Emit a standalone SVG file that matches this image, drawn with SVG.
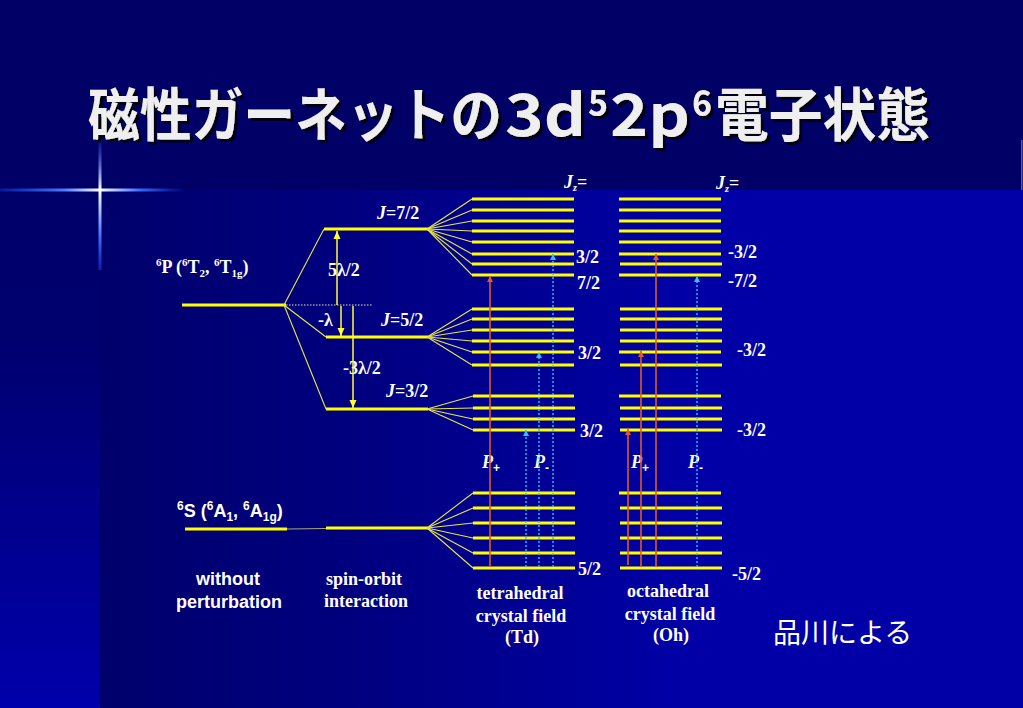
<svg xmlns="http://www.w3.org/2000/svg" width="1023" height="708" viewBox="0 0 1023 708">
<defs>
<style>
.lvl{stroke:#ffff00;stroke-width:3;fill:none}
.fan{stroke:#e6e64a;stroke-width:1.1;fill:none}
.ya{stroke:#ffff33;stroke-width:1.5;fill:none}
.or{stroke:#e0582a;stroke-width:1.6;fill:none}
.cy{stroke:#2cc4f4;stroke-width:1.4;fill:none;stroke-dasharray:2 2}
.tm{font-family:"Liberation Serif","Times New Roman",serif;font-weight:bold;fill:#ffffff;font-size:18px}
.ar{font-family:"Liberation Sans",Arial,sans-serif;font-weight:bold;fill:#ffffff;font-size:18px}
.it{font-style:italic}
.ttl{font-family:"Noto Sans CJK JP","Noto Sans CJK SC",sans-serif;font-weight:bold;fill:#efefef}
</style>
<filter id="shadow" x="-5%" y="-20%" width="110%" height="150%">
<feDropShadow dx="3" dy="3" stdDeviation="0.6" flood-color="#000018" flood-opacity="1"/>
</filter>
<linearGradient id="gMain" x1="100" y1="0" x2="680" y2="0" gradientUnits="userSpaceOnUse">
<stop offset="0" stop-color="#00006c"/>
<stop offset="0.45" stop-color="#000080"/>
<stop offset="1" stop-color="#0000a6"/>
</linearGradient>
<linearGradient id="gLeft" x1="0" y1="190" x2="0" y2="708" gradientUnits="userSpaceOnUse">
<stop offset="0" stop-color="#00006a"/>
<stop offset="0.3" stop-color="#000070"/>
<stop offset="1" stop-color="#0000ac"/>
</linearGradient>
<linearGradient id="gH" x1="0" y1="0" x2="185" y2="0" gradientUnits="userSpaceOnUse">
<stop offset="0" stop-color="#2050ff" stop-opacity="0.3"/>
<stop offset="0.35" stop-color="#4a7cff"/>
<stop offset="0.54" stop-color="#ffffff"/>
<stop offset="0.75" stop-color="#3d6dff"/>
<stop offset="1" stop-color="#2050ff" stop-opacity="0"/>
</linearGradient>
<linearGradient id="gV" x1="0" y1="140" x2="0" y2="270" gradientUnits="userSpaceOnUse">
<stop offset="0" stop-color="#2050ff" stop-opacity="0.2"/>
<stop offset="0.38" stop-color="#ffffff"/>
<stop offset="0.7" stop-color="#5080ff"/>
<stop offset="1" stop-color="#2050ff" stop-opacity="0.4"/>
</linearGradient>
<marker id="mO" markerWidth="6" markerHeight="6" refX="6" refY="3" orient="auto" markerUnits="userSpaceOnUse"><path d="M0,0 L6,3 L0,6 z" fill="#e0582a"/></marker>
<marker id="mC" markerWidth="6" markerHeight="6" refX="6" refY="3" orient="auto" markerUnits="userSpaceOnUse"><path d="M0,0 L6,3 L0,6 z" fill="#2cc4f4"/></marker>
<marker id="mY" markerWidth="8" markerHeight="8" refX="8" refY="4" orient="auto" markerUnits="userSpaceOnUse"><path d="M0,0.5 L8,4 L0,7.5 z" fill="#ffff33"/></marker>
</defs>

<!-- background -->
<rect x="0" y="0" width="1023" height="708" fill="#000066"/>
<rect x="100" y="190" width="923" height="518" fill="url(#gMain)"/>
<rect x="0" y="190" width="100" height="518" fill="url(#gLeft)"/>
<rect x="1021" y="140" width="1.5" height="50" fill="#8080c8" opacity="0.7"/>
<rect x="0" y="188.5" width="185" height="3" fill="url(#gH)"/>
<rect x="98.5" y="140" width="3" height="130" fill="url(#gV)"/>

<!-- title -->
<g id="title" filter="url(#shadow)">
<text class="ttl" transform="translate(88,136) scale(1,1.12)" x="0" y="0" font-size="51.5" textLength="414" lengthAdjust="spacingAndGlyphs">磁性ガーネットの</text>
<text class="ttl" x="505" y="136" font-size="58" textLength="81" lengthAdjust="spacingAndGlyphs">3d</text>
<text class="ttl" x="588" y="116" font-size="36" textLength="20" lengthAdjust="spacingAndGlyphs">5</text>
<text class="ttl" x="610" y="136" font-size="58" textLength="80" lengthAdjust="spacingAndGlyphs">2p</text>
<text class="ttl" x="692" y="116" font-size="36" textLength="20" lengthAdjust="spacingAndGlyphs">6</text>
<text class="ttl" transform="translate(715,136) scale(1,1.08)" x="0" y="0" font-size="53.5" textLength="215" lengthAdjust="spacingAndGlyphs">電子状態</text>
</g>

<!-- nodes: energy levels -->
<g id="level-6P">
<line class="lvl" x1="182" y1="305" x2="286" y2="305"/>
<text class="tm" x="156" y="273"><tspan font-size="11" dy="-7">6</tspan><tspan dy="7">P (</tspan><tspan font-size="11" dy="-7">6</tspan><tspan dy="7">T</tspan><tspan font-size="11" dy="4">2</tspan><tspan dy="-4">, </tspan><tspan font-size="11" dy="-7">6</tspan><tspan dy="7">T</tspan><tspan font-size="11" dy="4">1g</tspan><tspan dy="-4">)</tspan></text>
</g>
<g id="level-6S">
<line class="lvl" x1="185" y1="529" x2="287" y2="529"/>
<text class="ar" x="177" y="517"><tspan font-size="12" dy="-7">6</tspan><tspan dy="7">S (</tspan><tspan font-size="12" dy="-7">6</tspan><tspan dy="7">A</tspan><tspan font-size="12" dy="4">1</tspan><tspan dy="-4">, </tspan><tspan font-size="12" dy="-7">6</tspan><tspan dy="7">A</tspan><tspan font-size="12" dy="4">1g</tspan><tspan dy="-4">)</tspan></text>
</g>
<g id="level-J72">
<line class="lvl" x1="324" y1="229" x2="428" y2="229"/>
<text class="tm" x="377" y="219"><tspan class="it">J</tspan>=7/2</text>
</g>
<g id="level-J52">
<line class="lvl" x1="326" y1="337" x2="428" y2="337"/>
<text class="tm" x="381" y="326"><tspan class="it">J</tspan>=5/2</text>
</g>
<g id="level-J32">
<line class="lvl" x1="326" y1="409" x2="428" y2="409"/>
<text class="tm" x="386" y="397"><tspan class="it">J</tspan>=3/2</text>
</g>
<g id="level-SO-S">
<line class="lvl" x1="326" y1="528" x2="428" y2="528"/>
</g>

<g id="td-J72">
<line class="lvl" x1="472" y1="199" x2="574" y2="199"/>
<line class="lvl" x1="472" y1="210" x2="574" y2="210"/>
<line class="lvl" x1="472" y1="221" x2="574" y2="221"/>
<line class="lvl" x1="472" y1="231" x2="574" y2="231"/>
<line class="lvl" x1="472" y1="242" x2="574" y2="242"/>
<line class="lvl" x1="472" y1="254" x2="574" y2="254"/>
<line class="lvl" x1="472" y1="264" x2="574" y2="264"/>
<line class="lvl" x1="472" y1="275" x2="574" y2="275"/>
<text class="tm" x="576" y="263">3/2</text>
<text class="tm" x="577" y="289">7/2</text>
</g>
<g id="td-J52">
<line class="lvl" x1="472" y1="309" x2="574" y2="309"/>
<line class="lvl" x1="472" y1="319" x2="574" y2="319"/>
<line class="lvl" x1="472" y1="330" x2="574" y2="330"/>
<line class="lvl" x1="472" y1="341" x2="574" y2="341"/>
<line class="lvl" x1="472" y1="352" x2="574" y2="352"/>
<line class="lvl" x1="472" y1="365" x2="574" y2="365"/>
<text class="tm" x="578" y="359">3/2</text>
</g>
<g id="td-J32">
<line class="lvl" x1="473" y1="396" x2="574" y2="396"/>
<line class="lvl" x1="473" y1="408" x2="575" y2="408"/>
<line class="lvl" x1="473" y1="419" x2="575" y2="419"/>
<line class="lvl" x1="473" y1="430" x2="575" y2="430"/>
<text class="tm" x="580" y="437">3/2</text>
</g>
<g id="td-S">
<line class="lvl" x1="473" y1="493" x2="575" y2="493"/>
<line class="lvl" x1="473" y1="508" x2="575" y2="508"/>
<line class="lvl" x1="473" y1="523" x2="575" y2="523"/>
<line class="lvl" x1="473" y1="538" x2="575" y2="538"/>
<line class="lvl" x1="473" y1="553" x2="575" y2="553"/>
<line class="lvl" x1="473" y1="568" x2="575" y2="568"/>
<text class="tm" x="578" y="575">5/2</text>
</g>

<g id="oh-J72">
<line class="lvl" x1="619" y1="199" x2="721" y2="199"/>
<line class="lvl" x1="619" y1="210" x2="721" y2="210"/>
<line class="lvl" x1="619" y1="221" x2="721" y2="221"/>
<line class="lvl" x1="619" y1="231" x2="721" y2="231"/>
<line class="lvl" x1="619" y1="242" x2="721" y2="242"/>
<line class="lvl" x1="619" y1="254" x2="721" y2="254"/>
<line class="lvl" x1="620" y1="264" x2="722" y2="264"/>
<line class="lvl" x1="619" y1="275" x2="721" y2="275"/>
<text class="tm" x="728" y="258">-3/2</text>
<text class="tm" x="728" y="287">-7/2</text>
</g>
<g id="oh-J52">
<line class="lvl" x1="620" y1="309" x2="722" y2="309"/>
<line class="lvl" x1="620" y1="319" x2="722" y2="319"/>
<line class="lvl" x1="620" y1="330" x2="722" y2="330"/>
<line class="lvl" x1="620" y1="341" x2="722" y2="341"/>
<line class="lvl" x1="619" y1="352" x2="721" y2="352"/>
<line class="lvl" x1="620" y1="365" x2="722" y2="365"/>
<text class="tm" x="737" y="356">-3/2</text>
</g>
<g id="oh-J32">
<line class="lvl" x1="619" y1="396" x2="721" y2="396"/>
<line class="lvl" x1="620" y1="408" x2="722" y2="408"/>
<line class="lvl" x1="620" y1="419" x2="722" y2="419"/>
<line class="lvl" x1="620" y1="430" x2="722" y2="430"/>
<text class="tm" x="737" y="436">-3/2</text>
</g>
<g id="oh-S">
<line class="lvl" x1="619" y1="493" x2="721" y2="493"/>
<line class="lvl" x1="620" y1="508" x2="722" y2="508"/>
<line class="lvl" x1="620" y1="523" x2="722" y2="523"/>
<line class="lvl" x1="620" y1="538" x2="722" y2="538"/>
<line class="lvl" x1="620" y1="553" x2="722" y2="553"/>
<line class="lvl" x1="620" y1="568" x2="722" y2="568"/>
<text class="tm" x="732" y="580">-5/2</text>
</g>

<!-- labels -->
<g id="labels">
<text class="tm" x="564" y="188" font-size="16"><tspan class="it">J</tspan><tspan class="it" font-size="10" dy="3">z</tspan><tspan dy="-3">=</tspan></text>
<text class="tm" x="716" y="189" font-size="16"><tspan class="it">J</tspan><tspan class="it" font-size="10" dy="3">z</tspan><tspan dy="-3">=</tspan></text>
<text class="tm" x="328" y="276">5λ/2</text>
<text class="tm" x="318" y="326">-λ</text>
<text class="tm" x="343" y="374">-3λ/2</text>
<text class="tm" x="482" y="468" font-size="19"><tspan class="it">P</tspan><tspan font-family="'Liberation Sans',Arial,sans-serif" font-size="12" dy="4">+</tspan></text>
<text class="tm" x="534" y="468" font-size="19"><tspan class="it">P</tspan><tspan font-family="'Liberation Sans',Arial,sans-serif" font-size="12" dy="4">-</tspan></text>
<text class="tm" x="631" y="468" font-size="19"><tspan class="it">P</tspan><tspan font-family="'Liberation Sans',Arial,sans-serif" font-size="12" dy="4">+</tspan></text>
<text class="tm" x="688" y="468" font-size="19"><tspan class="it">P</tspan><tspan font-family="'Liberation Sans',Arial,sans-serif" font-size="12" dy="4">-</tspan></text>
<text class="ar" x="228" y="585" text-anchor="middle">without</text>
<text class="ar" x="229" y="608" text-anchor="middle">perturbation</text>
<text class="tm" x="364" y="585" text-anchor="middle">spin-orbit</text>
<text class="tm" x="366" y="607" text-anchor="middle">interaction</text>
<text class="tm" x="520" y="599" text-anchor="middle">tetrahedral</text>
<text class="tm" x="521" y="622" text-anchor="middle">crystal field</text>
<text class="tm" x="522" y="643" text-anchor="middle">(Td)</text>
<text class="tm" x="668" y="597" text-anchor="middle">octahedral</text>
<text class="tm" x="670" y="620" text-anchor="middle">crystal field</text>
<text class="tm" x="671" y="641" text-anchor="middle">(Oh)</text>
<text x="773" y="643" font-family="'Noto Sans CJK JP','Noto Sans CJK SC',sans-serif" font-size="28" fill="#ffffff">品川による</text>
</g>

<!-- connectors -->
<g id="connectors">
<line x1="286" y1="305" x2="372" y2="305" stroke="#e8e8a0" stroke-width="1" stroke-dasharray="1.5 1.5"/>
<line class="fan" x1="284" y1="305" x2="324" y2="229"/>
<line class="fan" x1="284" y1="305" x2="326" y2="337"/>
<line class="fan" x1="284" y1="305" x2="326" y2="409"/>
<line x1="287" y1="529" x2="326" y2="528.5" stroke="#a8a878" stroke-width="1"/>
<line class="ya" x1="337" y1="305" x2="337" y2="231" marker-end="url(#mY)"/>
<line class="ya" x1="341" y1="306" x2="341" y2="336" marker-end="url(#mY)"/>
<line class="ya" x1="353" y1="306" x2="353" y2="408" marker-end="url(#mY)"/>
<g>
<line class="fan" x1="427" y1="229" x2="472" y2="199"/>
<line class="fan" x1="427" y1="229" x2="472" y2="210"/>
<line class="fan" x1="427" y1="229" x2="472" y2="221"/>
<line class="fan" x1="427" y1="229" x2="472" y2="231"/>
<line class="fan" x1="427" y1="229" x2="472" y2="242"/>
<line class="fan" x1="427" y1="229" x2="472" y2="254"/>
<line class="fan" x1="427" y1="229" x2="472" y2="264"/>
<line class="fan" x1="427" y1="229" x2="472" y2="275"/>
</g>
<g>
<line class="fan" x1="427" y1="337" x2="472" y2="309"/>
<line class="fan" x1="427" y1="337" x2="472" y2="319"/>
<line class="fan" x1="427" y1="337" x2="472" y2="330"/>
<line class="fan" x1="427" y1="337" x2="472" y2="341"/>
<line class="fan" x1="427" y1="337" x2="472" y2="352"/>
<line class="fan" x1="427" y1="337" x2="472" y2="365"/>
</g>
<g>
<line class="fan" x1="427" y1="409" x2="473" y2="396"/>
<line class="fan" x1="427" y1="409" x2="473" y2="408"/>
<line class="fan" x1="427" y1="409" x2="473" y2="419"/>
<line class="fan" x1="427" y1="409" x2="473" y2="430"/>
</g>
<g>
<line class="fan" x1="427" y1="528" x2="473" y2="493"/>
<line class="fan" x1="427" y1="528" x2="473" y2="508"/>
<line class="fan" x1="427" y1="528" x2="473" y2="523"/>
<line class="fan" x1="427" y1="528" x2="473" y2="538"/>
<line class="fan" x1="427" y1="528" x2="473" y2="553"/>
<line class="fan" x1="427" y1="528" x2="473" y2="568"/>
</g>
<line class="or" x1="490" y1="567" x2="490" y2="276" marker-end="url(#mO)"/>
<line class="cy" x1="526" y1="567" x2="526" y2="430" marker-end="url(#mC)"/>
<line class="cy" x1="539" y1="567" x2="539" y2="352" marker-end="url(#mC)"/>
<line class="cy" x1="553" y1="567" x2="553" y2="254" marker-end="url(#mC)"/>
<line class="or" x1="628" y1="565" x2="628" y2="429" marker-end="url(#mO)"/>
<line class="or" x1="641" y1="567" x2="641" y2="351" marker-end="url(#mO)"/>
<line class="or" x1="656" y1="567" x2="656" y2="254" marker-end="url(#mO)"/>
<line class="cy" x1="697" y1="567" x2="697" y2="276" marker-end="url(#mC)"/>
</g>
</svg>
